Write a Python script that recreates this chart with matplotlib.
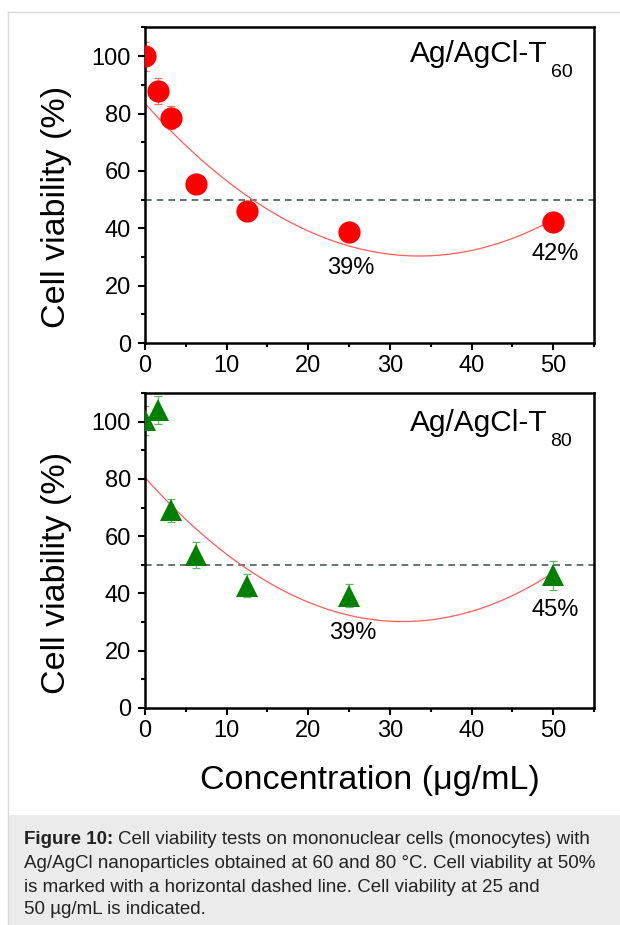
import numpy as np
import matplotlib
matplotlib.use('Agg')
import matplotlib.pyplot as plt
from matplotlib.patches import Rectangle
from matplotlib.lines import Line2D
from matplotlib.ticker import MultipleLocator

plt.rcParams['font.family'] = ['Liberation Sans', 'DejaVu Sans']

# data
conc = [0, 1.5625, 3.125, 6.25, 12.5, 25, 50]

via_60 = [100, 88, 78.6, 55.6, 46, 38.8, 42.3]
err_60 = [5, 4.5, 4, 1.5, 1.5, 1.5, 1.5]
fit_60 = [0.0471, -3.165, 83.5]          # quadratic fit, highest power first
notes_60 = [('39%', 25.2, 26), ('42%', 50.2, 31)]

via_80 = [100.5, 104, 69, 53.3, 42.7, 39.2, 46.3]
err_80 = [5, 5, 4, 4.5, 4, 4, 5]
fit_80 = [0.0504, -3.185, 80.5]
notes_80 = [('39%', 25.5, 26.2), ('45%', 50.2, 34.3)]

caption = ["Cell viability tests on mononuclear cells (monocytes) with",
           "Ag/AgCl nanoparticles obtained at 60 and 80 \u00b0C. Cell viability at 50%",
           "is marked with a horizontal dashed line. Cell viability at 25 and",
           "50 \u00b5g/mL is indicated."]

W, H = 620, 925
fig = plt.figure(figsize=(W / 100, H / 100), dpi=100)
rend = fig.canvas.get_renderer()

def box(l, t, r, b):
    return [l / W, 1 - b / H, (r - l) / W, (b - t) / H]

def fx(px):
    return px / W

def fy(py):
    return 1 - py / H

panels = [
    (box(145, 27.5, 594, 343), via_60, err_60, fit_60, notes_60, 'o', 16, 'red', '#ff7070', '60', 62),
    (box(145, 393, 594, 708), via_80, err_80, fit_80, notes_80, '^', 16, '#007f00', '#5cb85c', '80', 431),
]

xs = np.linspace(0, 50, 200)
for pos, via, err, fit, notes, mk, ms, col, ecol, sub, base in panels:
    ax = fig.add_axes(pos)
    ax.errorbar(conc, via, yerr=err, fmt='none', ecolor=ecol, elinewidth=0.9,
                capsize=3, capthick=0.9, zorder=2)
    ax.plot(conc, via, linestyle='none', marker=mk, ms=ms, color=col,
            markeredgewidth=0, zorder=3)
    ax.plot(xs, np.polyval(fit, xs), color='#ff5a5a', lw=0.9, zorder=2)
    ax.axhline(50, color='#4d5a5a', lw=1.2, ls=(0, (4, 3)), zorder=1)
    for txt, x, y in notes:
        ax.text(x, y, txt, ha='center', va='center', fontsize=17)
    ax.set_xlim(0, 55)
    ax.set_ylim(0, 110)
    ax.set_xticks([0, 10, 20, 30, 40, 50])
    ax.set_yticks([0, 20, 40, 60, 80, 100])
    ax.xaxis.set_minor_locator(MultipleLocator(5))
    ax.yaxis.set_minor_locator(MultipleLocator(10))
    ax.tick_params(which='both', direction='out', width=1.5, labelsize=17)
    ax.tick_params(axis='y', pad=5)
    ax.tick_params(which='major', length=5)
    ax.tick_params(which='minor', length=3)
    for s in ax.spines.values():
        s.set_linewidth(1.8)
    ax.text(-0.198, 0.43, 'Cell viability (%)', transform=ax.transAxes,
            rotation=90, ha='center', va='center', fontsize=24.5)

    # sample name with a dropped subscript, as in the original
    t = fig.text(fx(410), fy(base), 'Ag/AgCl-T', fontsize=21.5, ha='left', va='baseline')
    wm = t.get_window_extent(rend).width
    fig.text(fx(410 + wm + 3), fy(base + 15), sub, fontsize=14, ha='left', va='baseline')

fig.text(fx(369.5), fy(781), 'Concentration (\u03bcg/mL)', ha='center', va='center',
         fontsize=24.5)

# page frame and caption box
fig.add_artist(Line2D([fx(8), fx(8)], [0, fy(12)], color='#d9d9d9', lw=1))
fig.add_artist(Line2D([fx(8), 1], [fy(12), fy(12)], color='#d9d9d9', lw=1))
fig.add_artist(Rectangle((fx(8), 0), 1 - fx(8), 110 / H, facecolor='#ebebeb',
                         edgecolor='none', zorder=0))

cap_fs = 13.5
ys = [839, 863, 887, 910]
lab = fig.text(fx(24), fy(ys[0]), 'Figure 10: ', fontsize=cap_fs, fontweight='bold',
               ha='left', va='center', color='#222222')
wl = lab.get_window_extent(rend).width
fig.text(fx(24 + wl), fy(ys[0]), caption[0], fontsize=cap_fs, ha='left', va='center',
         color='#222222')
for line, y in zip(caption[1:], ys[1:]):
    fig.text(fx(24), fy(y), line, fontsize=cap_fs, ha='left', va='center', color='#222222')

fig.savefig('out.png', dpi=100)
